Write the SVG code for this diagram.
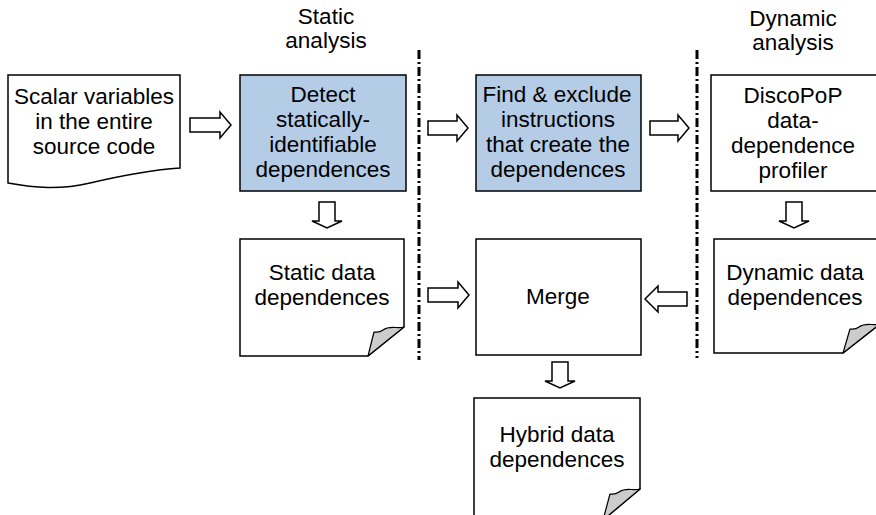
<svg xmlns="http://www.w3.org/2000/svg" width="876" height="515" viewBox="0 0 876 515">
<defs>
<style>
text{font-family:"Liberation Sans",Arial,sans-serif;font-size:22.5px;fill:#000;text-anchor:middle}
.box{fill:#fff;stroke:#000;stroke-width:1.5}
.blue{fill:#b4cce6;stroke:#000;stroke-width:1.5}
.curl{fill:#cccccc;stroke:#000;stroke-width:1.2;stroke-linejoin:round}
.arr{fill:#fff;stroke:#000;stroke-width:1.5;stroke-linejoin:miter}
.sep{stroke:#000;stroke-width:3;stroke-dasharray:9 3 2 3;fill:none}
</style>
</defs>
<rect width="876" height="515" fill="#fff"/>

<g id="labels">
<text x="326" y="24">Static</text>
<text x="326" y="48">analysis</text>
<text x="793" y="26">Dynamic</text>
<text x="793" y="50">analysis</text>
</g>

<g id="separators">
<line class="sep" x1="419" y1="50" x2="419" y2="360"/>
<line class="sep" x1="697" y1="50" x2="697" y2="358"/>
</g>

<g id="source">
<path class="box" d="M8,75 H180 V168 C150,170 120,176 90,183 C60,190 35,188 8,183 Z"/>
<text x="94" y="104">Scalar variables</text>
<text x="94" y="129">in the entire</text>
<text x="94" y="154">source code</text>
</g>

<g id="detect">
<rect class="blue" x="240" y="75" width="166" height="116"/>
<text x="323" y="102">Detect</text>
<text x="323" y="127">statically-</text>
<text x="323" y="152">identifiable</text>
<text x="323" y="177">dependences</text>
</g>

<g id="find">
<rect class="blue" x="476" y="75" width="165" height="116"/>
<text x="557" y="102">Find &amp; exclude</text>
<text x="558" y="127">instructions</text>
<text x="558" y="152">that create the</text>
<text x="558" y="177">dependences</text>
</g>

<g id="profiler">
<rect class="box" x="711" y="75" width="170" height="116"/>
<text x="793" y="103">DiscoPoP</text>
<text x="793" y="128">data-</text>
<text x="793" y="153">dependence</text>
<text x="793" y="178">profiler</text>
</g>

<g id="static-deps">
<path class="box" d="M240,239 H404 V327 L368,356 H240 Z"/>
<path class="curl" d="M404,327 C396,329 390,325 383,330 C379,333 376,332 374,332 L368,356 Z"/>
<text x="322" y="280">Static data</text>
<text x="322" y="305">dependences</text>
</g>

<g id="merge">
<rect class="box" x="476" y="239" width="165" height="116"/>
<text x="558" y="304">Merge</text>
</g>

<g id="dynamic-deps">
<path class="box" d="M714,239 H880 V324 L843,353 H714 Z"/>
<path class="curl" d="M880,324 C872,326 866,322 859,327 C855,330 852,329 850,329 L843,353 Z"/>
<text x="795" y="280">Dynamic data</text>
<text x="795" y="305">dependences</text>
</g>

<g id="hybrid-deps">
<path class="box" d="M474,398 H640 V489 L603,520 H474 Z"/>
<path class="curl" d="M640,489 C632,491 626,487 619,492 C615,495 612,494 610,494 L603,520 Z"/>
<text x="557" y="442">Hybrid data</text>
<text x="557" y="467">dependences</text>
</g>

<g id="connectors">
<path class="arr" d="M190,118 H220 V112 L231,125 L220,138 V132 H190 Z"/>
<path class="arr" d="M428,121 H457 V115 L468,128 L457,141 V135 H428 Z"/>
<path class="arr" d="M650,121 H678 V115 L689,128 L678,141 V135 H650 Z"/>
<path class="arr" d="M428,288 H458 V282 L469,295 L458,308 V302 H428 Z"/>
<path class="arr" d="M687,292 H658 V286 L645,299 L658,312 V306 H687 Z"/>
<path class="arr" d="M319,202 H335 V221 H342 L327,228 L312,221 H319 Z"/>
<path class="arr" d="M786,202 H802 V221 H809 L794,228 L779,221 H786 Z"/>
<path class="arr" d="M552,362 H568 V381 H575 L560,388 L545,381 H552 Z"/>
</g>
</svg>
